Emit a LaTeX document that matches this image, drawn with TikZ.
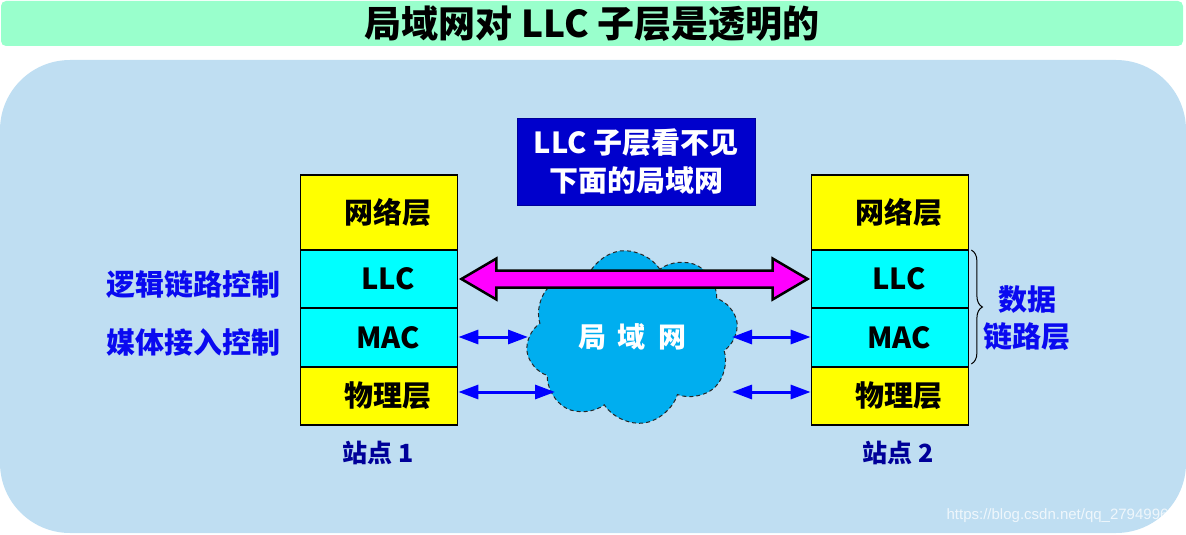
\documentclass[tikz,border=0pt]{standalone}
\usepackage{fontspec}
\setmainfont{Noto Sans CJK SC}
\newfontfamily\wmfont{Liberation Sans}
\usetikzlibrary{shapes.symbols,decorations.pathreplacing,arrows.meta,calc}
\definecolor{titlebg}{RGB}{153,255,204}
\definecolor{panel}{RGB}{191,222,242}
\definecolor{cloudblue}{RGB}{0,174,239}
\definecolor{boxblue}{RGB}{0,0,204}
\definecolor{labelblue}{RGB}{10,10,240}
\definecolor{stationblue}{RGB}{0,0,153}
\definecolor{layeryellow}{RGB}{255,255,0}
\definecolor{layercyan}{RGB}{0,255,255}
\definecolor{pinkfill}{RGB}{255,0,255}
\definecolor{arrowblue}{RGB}{0,0,255}
\begin{document}
\begin{tikzpicture}[x=1pt,y=-1pt,
  layer/.style={draw=black, line width=1.8pt, minimum width=157pt, inner sep=0pt,
    font=\fontsize{29}{29}\selectfont\bfseries, execute at begin node={\hspace*{18pt}}},
  yellowlayer/.style={layer, fill=layeryellow},
  cyanlayer/.style={layer, fill=layercyan},
  sidelabel/.style={text=labelblue, font=\fontsize{29}{37}\selectfont\bfseries, align=center, inner sep=0pt},
  stationlabel/.style={text=stationblue, font=\fontsize{25}{25}\selectfont\bfseries, inner sep=0pt},
  bluearrow/.style={draw=arrowblue, line width=3pt,
    {Triangle[length=20pt,width=14pt]}-{Triangle[length=20pt,width=14pt]}},
  pinkarrow/.style={draw=black, line width=2.5pt, fill=pinkfill, line join=miter},
]
\useasboundingbox (0,0) rectangle (1186,535);
% title banner
\node[fill=titlebg, rounded corners=5pt, minimum width=1182pt, minimum height=45pt,
      font=\fontsize{37}{37}\selectfont\bfseries, inner sep=0pt] (title) at (592,23.5) {局域网对 LLC 子层是透明的};
% panel
\fill[panel, rounded corners=70pt] (0,60) rectangle (1186,533);
% note box
\node[fill=boxblue, draw=blue!60!black, line width=1pt, minimum width=238pt, minimum height=87pt,
      text=white, font=\fontsize{29}{38}\selectfont\bfseries, align=center, inner sep=0pt] (note) at (636,161.5)
      {LLC 子层看不见\\下面的局域网};
% cloud
\node[cloud, cloud puffs=8, cloud puff arc=130, aspect=1.15, minimum width=212pt, minimum height=172pt,
      fill=cloudblue, draw=black!85, dash pattern=on 4pt off 3pt, line width=1pt, text=white,
      font=\fontsize{28}{28}\selectfont\bfseries, rotate=8] (lan) at (632,337) {\rotatebox{-8}{局\hspace{12pt}域\hspace{12pt}网}};
% station 1
\node[yellowlayer, minimum height=75pt] (net1) at (379,212.5) {网络层};
\node[cyanlayer, minimum height=58pt] (llc1) at (379,279) {LLC};
\node[cyanlayer, minimum height=59pt] (mac1) at (379,337.5) {MAC};
\node[yellowlayer, minimum height=58pt] (phy1) at (379,396) {物理层};
% station 2
\node[yellowlayer, minimum height=75pt] (net2) at (890,212.5) {网络层};
\node[cyanlayer, minimum height=58pt] (llc2) at (890,279) {LLC};
\node[cyanlayer, minimum height=59pt] (mac2) at (890,337.5) {MAC};
\node[yellowlayer, minimum height=58pt] (phy2) at (890,396) {物理层};
% labels
\node[sidelabel] (lbl1) at (193,285) {逻辑链路控制};
\node[sidelabel] (lbl2) at (193,342) {媒体接入控制};
\node[sidelabel] (dll) at (1027,318.5) {数据\\链路层};
\node[stationlabel] (st1) at (378,453) {站点 1};
\node[stationlabel] (st2) at (898,453) {站点 2};
% watermark
\node[text=white, opacity=0.75, font=\wmfont\fontsize{15}{15}\selectfont, anchor=east, inner sep=0pt] (wm) at (1177,516) {https://blog.csdn.net/qq\_27949963};
% cloud edge coordinates
\coordinate (cml) at (528,337);
\coordinate (cmr) at (732,337);
\coordinate (cpl) at (555,392);
\coordinate (cpr) at (732,392);
% blue arrows
\draw[bluearrow] (mac1.east |- cml) -- (cml);
\draw[bluearrow] (cmr) -- (mac2.west |- cmr);
\draw[bluearrow] (phy1.east |- cpl) -- (cpl);
\draw[bluearrow] (cpr) -- (phy2.west |- cpr);
% pink double arrow
\coordinate (pa) at ($(llc1.east)+(3,0)$);
\coordinate (pb) at ($(llc2.west)+(-3,0)$);
\draw[pinkarrow] (pa) -- ($(pa)+(35,-20.5)$) -- ($(pa)+(35,-8.5)$) -- ($(pb)+(-35,-8.5)$)
  -- ($(pb)+(-35,-20.5)$) -- (pb) -- ($(pb)+(-35,20.5)$) -- ($(pb)+(-35,8.5)$)
  -- ($(pa)+(35,8.5)$) -- ($(pa)+(35,20.5)$) -- cycle;
% brace
\draw[decorate, decoration={brace, amplitude=11pt}, line width=1pt]
  ($(llc2.north east)+(2,1)$) -- ($(mac2.south east)+(2,-4)$);
\end{tikzpicture}
\end{document}
